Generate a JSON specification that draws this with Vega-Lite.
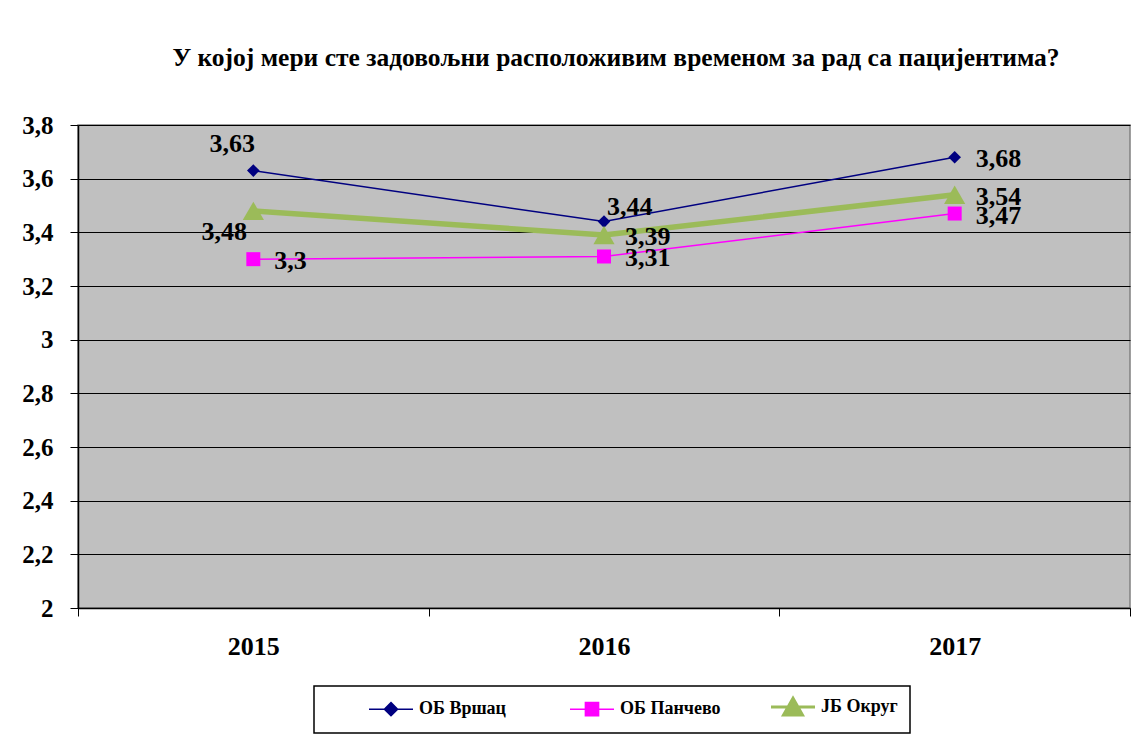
{
  "$schema": "https://vega.github.io/schema/vega-lite/v6.json",
  "width": 1052,
  "height": 483,
  "autosize": {"type": "none"},
  "padding": {"left": 78, "top": 125, "right": 18, "bottom": 130},
  "background": "white",
  "config": {
    "view": {"stroke": "#808080", "fill": "#C0C0C0", "strokeWidth": 1.5},
    "font": "Liberation Serif, Times New Roman, serif",
    "locale": {"number": {"decimal": ",", "thousands": ".", "grouping": [3], "currency": ["", ""]}}
  },
  "title": {
    "text": "У којој мери сте задовољни расположивим временом за рад са пацијентима?",
    "font": "Liberation Serif, Times New Roman, serif",
    "fontSize": 25.5,
    "fontWeight": "bold",
    "color": "black",
    "anchor": "middle",
    "baseline": "alphabetic",
    "offset": 22,
    "dx": 12
  },
  "data": {
    "values": [
      {"year": "2015", "series": "ОБ Вршац", "value": 3.63},
      {"year": "2016", "series": "ОБ Вршац", "value": 3.44},
      {"year": "2017", "series": "ОБ Вршац", "value": 3.68},
      {"year": "2015", "series": "ОБ Панчево", "value": 3.3},
      {"year": "2016", "series": "ОБ Панчево", "value": 3.31},
      {"year": "2017", "series": "ОБ Панчево", "value": 3.47},
      {"year": "2015", "series": "ЈБ Округ", "value": 3.48},
      {"year": "2016", "series": "ЈБ Округ", "value": 3.39},
      {"year": "2017", "series": "ЈБ Округ", "value": 3.54}
    ]
  },
  "encoding": {
    "x": {
      "field": "year",
      "type": "ordinal",
      "scale": {"type": "band", "paddingInner": 0, "paddingOuter": 0},
      "axis": {
        "title": null,
        "labelAngle": 0,
        "labelFont": "Liberation Serif, Times New Roman, serif",
        "labelFontSize": 26,
        "labelFontWeight": "bold",
        "labelColor": "black",
        "labelPadding": 17,
        "tickBand": "extent",
        "tickSize": 8,
        "tickColor": "black",
        "domainColor": "black",
        "domainWidth": 1.5,
        "grid": false
      }
    },
    "y": {
      "field": "value",
      "type": "quantitative",
      "scale": {"domain": [2, 3.8], "nice": false, "zero": false},
      "axis": {
        "title": null,
        "values": [2, 2.2, 2.4, 2.6, 2.8, 3, 3.2, 3.4, 3.6, 3.8],
        "labelExpr": "replace(format(datum.value, '.1~f'), '.', ',')",
        "labelFont": "Liberation Serif, Times New Roman, serif",
        "labelFontSize": 25,
        "labelFontWeight": "bold",
        "labelColor": "black",
        "labelPadding": 17,
        "tickSize": 8,
        "tickColor": "black",
        "domainColor": "black",
        "domainWidth": 1.5,
        "grid": true,
        "gridColor": "black",
        "gridWidth": 1
      }
    }
  },
  "layer": [
    {
      "mark": {"type": "line"},
      "encoding": {
        "color": {
          "field": "series",
          "type": "nominal",
          "scale": {"domain": ["ОБ Вршац", "ОБ Панчево", "ЈБ Округ"], "range": ["#000080", "#FF00FF", "#9BBB59"]},
          "legend": {
            "orient": "none",
            "legendX": 236,
            "legendY": 561,
            "direction": "horizontal",
            "columns": 3,
            "gridAlign": "all",
            "title": " ",
            "titleOrient": "left",
            "titlePadding": 56,
            "titleFontSize": 4,
            "strokeColor": "black",
            "fillColor": "white",
            "padding": 12,
            "labelFont": "Liberation Serif, Times New Roman, serif",
            "labelFontSize": 18,
            "labelFontWeight": "bold",
            "labelColor": "black",
            "symbolSize": 1936,
            "labelOffset": 19,
            "columnPadding": 44,
            "symbolStrokeWidth": 1.5,
            "encode": {
              "symbols": {
                "update": {
                  "shape": {"signal": "datum.value === 'ОБ Вршац' ? 'M-1,0H1M0,-0.3L0.3,0L0,0.3L-0.3,0Z' : datum.value === 'ОБ Панчево' ? 'M-1,0H1M-0.3,-0.3H0.3V0.3H-0.3Z' : 'M-1,0H1M0,-0.4L0.43,0.36H-0.43Z'"},
                  "fill": {"scale": "color", "field": "value"},
                  "stroke": {"scale": "color", "field": "value"},
                  "strokeWidth": {"signal": "datum.value === 'ЈБ Округ' ? 3 : 1.5"},
                  "size": {"value": 1936},
                  "opacity": {"value": 1}
                }
              },
              "legend": {"update": {"strokeWidth": {"value": 1.5}}}
            }
          }
        },
        "strokeWidth": {
          "condition": {"test": "datum.series === 'ЈБ Округ'", "value": 5.5},
          "value": 1.5
        }
      }
    },
    {
      "transform": [{"filter": "datum.series === 'ОБ Вршац'"}],
      "mark": {"type": "point", "filled": true, "opacity": 1, "shape": "diamond", "size": 160, "color": "#000080"}
    },
    {
      "transform": [{"filter": "datum.series === 'ОБ Панчево'"}],
      "mark": {"type": "point", "filled": true, "opacity": 1, "shape": "square", "size": 196, "color": "#FF00FF"}
    },
    {
      "transform": [{"filter": "datum.series === 'ЈБ Округ'"}],
      "mark": {"type": "point", "filled": true, "opacity": 1, "shape": "triangle-up", "size": 450, "color": "#9BBB59"}
    },
    {
      "transform": [{"filter": "!((datum.series === 'ОБ Вршац' && (datum.year === '2015' || datum.year === '2016')) || (datum.series === 'ЈБ Округ' && datum.year === '2015'))"}],
      "mark": {"type": "text", "align": "left", "baseline": "middle", "dx": 21, "dy": 2, "font": "Liberation Serif, Times New Roman, serif", "fontSize": 26, "fontWeight": "bold", "color": "black"},
      "encoding": {"text": {"field": "value", "type": "quantitative", "format": ".2~f"}}
    },
    {
      "transform": [{"filter": "datum.series === 'ОБ Вршац' && datum.year === '2015'"}],
      "mark": {"type": "text", "align": "center", "baseline": "middle", "dx": -21, "dy": -27, "font": "Liberation Serif, Times New Roman, serif", "fontSize": 26, "fontWeight": "bold", "color": "black"},
      "encoding": {"text": {"field": "value", "type": "quantitative", "format": ".2~f"}}
    },
    {
      "transform": [{"filter": "datum.series === 'ОБ Вршац' && datum.year === '2016'"}],
      "mark": {"type": "text", "align": "left", "baseline": "middle", "dx": 3, "dy": -15, "font": "Liberation Serif, Times New Roman, serif", "fontSize": 26, "fontWeight": "bold", "color": "black"},
      "encoding": {"text": {"field": "value", "type": "quantitative", "format": ".2~f"}}
    },
    {
      "transform": [{"filter": "datum.series === 'ЈБ Округ' && datum.year === '2015'"}],
      "mark": {"type": "text", "align": "center", "baseline": "middle", "dx": -29, "dy": 21, "font": "Liberation Serif, Times New Roman, serif", "fontSize": 26, "fontWeight": "bold", "color": "black"},
      "encoding": {"text": {"field": "value", "type": "quantitative", "format": ".2~f"}}
    }
  ]
}
